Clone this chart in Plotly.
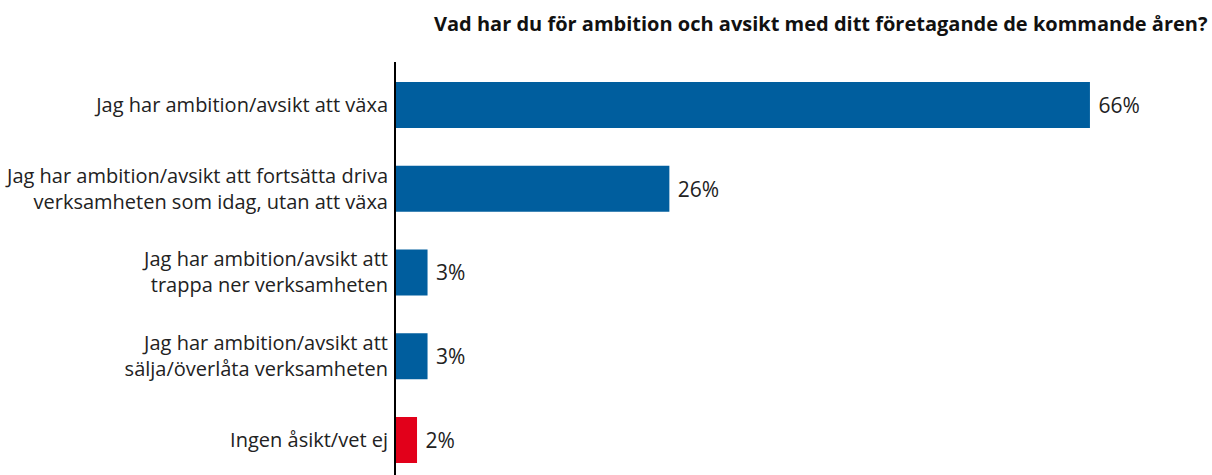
import plotly.graph_objects as go

categories = [
    "Jag har ambition/avsikt att växa",
    "Jag har ambition/avsikt att fortsätta driva<br>verksamheten som idag, utan att växa",
    "Jag har ambition/avsikt att<br>trappa ner verksamheten",
    "Jag har ambition/avsikt att<br>sälja/överlåta verksamheten",
    "Ingen åsikt/vet ej",
]
values = [66, 26, 3, 3, 2]
colors = ["#005E9E", "#005E9E", "#005E9E", "#005E9E", "#E2001A"]
title = "Vad har du för ambition och avsikt med ditt företagande de kommande åren?"

FONT = "Open Sans"

fig = go.Figure(go.Bar(
    x=values,
    y=categories,
    orientation="h",
    marker=dict(color=colors, line=dict(width=0)),
    width=0.55,
    text=values,
    texttemplate=" %{x}%",
    textposition="outside",
    textfont=dict(family=FONT, size=21, color="#222222"),
    cliponaxis=False,
    hoverinfo="skip",
))

fig.add_annotation(
    text="<b>" + title + "</b>", xref="paper", yref="paper",
    x=(1210 - 396) / 736, y=1 + (62 - 24) / 413, xanchor="right", yanchor="middle",
    showarrow=False, font=dict(family=FONT, size=20, color="#111111"),
)

fig.update_layout(
    width=1212, height=475,
    margin=dict(l=396, r=80, t=62, b=0, autoexpand=False),
    paper_bgcolor="white", plot_bgcolor="white",
    showlegend=False,
    font=dict(family=FONT, size=16, color="#222222"),
    xaxis=dict(range=[0, 70], visible=False, fixedrange=True, automargin=False),
    yaxis=dict(categoryorder="array", categoryarray=categories, automargin=False,
               range=[4.418, -0.513], showline=True, linecolor="black", linewidth=2,
               showgrid=False, zeroline=False, ticks="", ticklabelstandoff=2,
               fixedrange=True, tickfont=dict(family=FONT, size=20, color="#222222")),
)

fig.write_html("out.html", config={"displayModeBar": False},
               post_script="document.body.style.margin='0';")
